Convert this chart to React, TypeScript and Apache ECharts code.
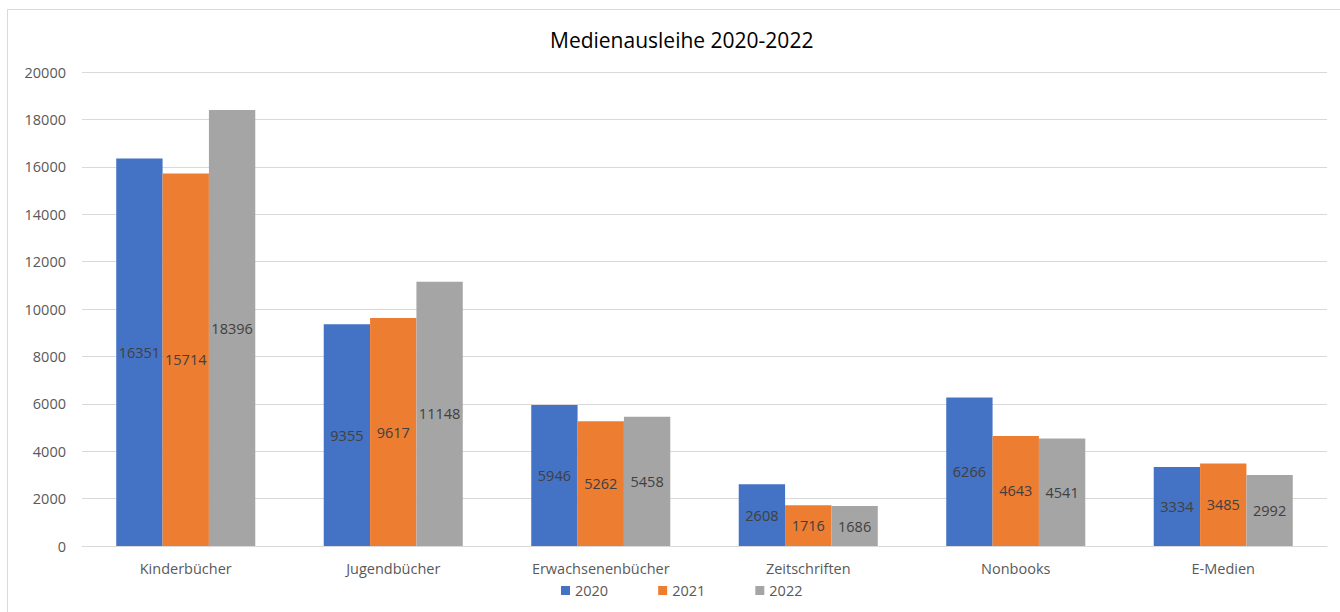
import React, { useEffect, useRef } from "react";
import * as echarts from "echarts";

const categories = ["Kinderbücher", "Jugendbücher", "Erwachsenenbücher", "Zeitschriften", "Nonbooks", "E-Medien"];
const seriesNames = ["2020", "2021", "2022"];
const values2020 = [16351, 9355, 5946, 2608, 6266, 3334];
const values2021 = [15714, 9617, 5262, 1716, 4643, 3485];
const values2022 = [18396, 11148, 5458, 1686, 4541, 2992];
const colors = ["#4472C4", "#ED7D31", "#A5A5A5"];

const FONT = "'Open Sans', Lato, sans-serif";

export default function App() {
  const ref = useRef<HTMLDivElement>(null);
  useEffect(() => {
    if (!ref.current) return;
    const chart = echarts.init(ref.current, undefined, { renderer: "svg" });
    const data = [values2020, values2021, values2022];
    chart.setOption({
      animation: false,
      backgroundColor: "#ffffff",
      textStyle: { fontFamily: FONT },
      title: {
        text: "Medienausleihe 2020-2022",
        left: 545,
        top: 24,
        textStyle: { fontFamily: FONT, fontSize: 21, fontWeight: "normal", color: "#000000" },
      },
      graphic: [
        {
          type: "rect",
          shape: { x: 7.5, y: 9.5, width: 1345, height: 620 },
          style: { fill: "none", stroke: "#d9d9d9", lineWidth: 1 },
          silent: true,
          z: -1,
        },
      ],
      legend: {
        data: seriesNames,
        bottom: 9,
        left: 556,
        icon: "rect",
        itemWidth: 9,
        itemHeight: 9,
        itemGap: 50,
        textStyle: { fontFamily: FONT, fontSize: 14.5, color: "#595959" },
      },
      grid: { left: 82, right: 13, top: 72, bottom: 66, containLabel: false },
      xAxis: {
        type: "category",
        data: categories,
        axisLine: { lineStyle: { color: "#d9d9d9", width: 1 } },
        axisTick: { show: false },
        axisLabel: { fontFamily: FONT, fontSize: 14.5, color: "#595959", margin: 15 },
      },
      yAxis: {
        type: "value",
        min: 0,
        max: 20000,
        interval: 2000,
        axisLine: { show: false },
        axisTick: { show: false },
        splitLine: { lineStyle: { color: "#d9d9d9", width: 1 } },
        axisLabel: {
          fontFamily: FONT,
          fontSize: 14.5,
          color: "#595959",
          margin: 16,
          formatter: (v: number) => String(v),
        },
      },
      series: seriesNames.map((name, i) => ({
        name,
        type: "bar",
        data: data[i],
        barGap: "0%",
        barCategoryGap: "33%",
        itemStyle: { color: colors[i] },
        label: {
          show: true,
          position: "inside",
          fontFamily: FONT,
          fontSize: 14.5,
          color: "#404040",
        },
      })),
    });
    return () => chart.dispose();
  }, []);
  return (
    <div
      ref={ref}
      style={{ position: "absolute", left: 0, top: 0, width: 1340, height: 612 }}
    />
  );
}
